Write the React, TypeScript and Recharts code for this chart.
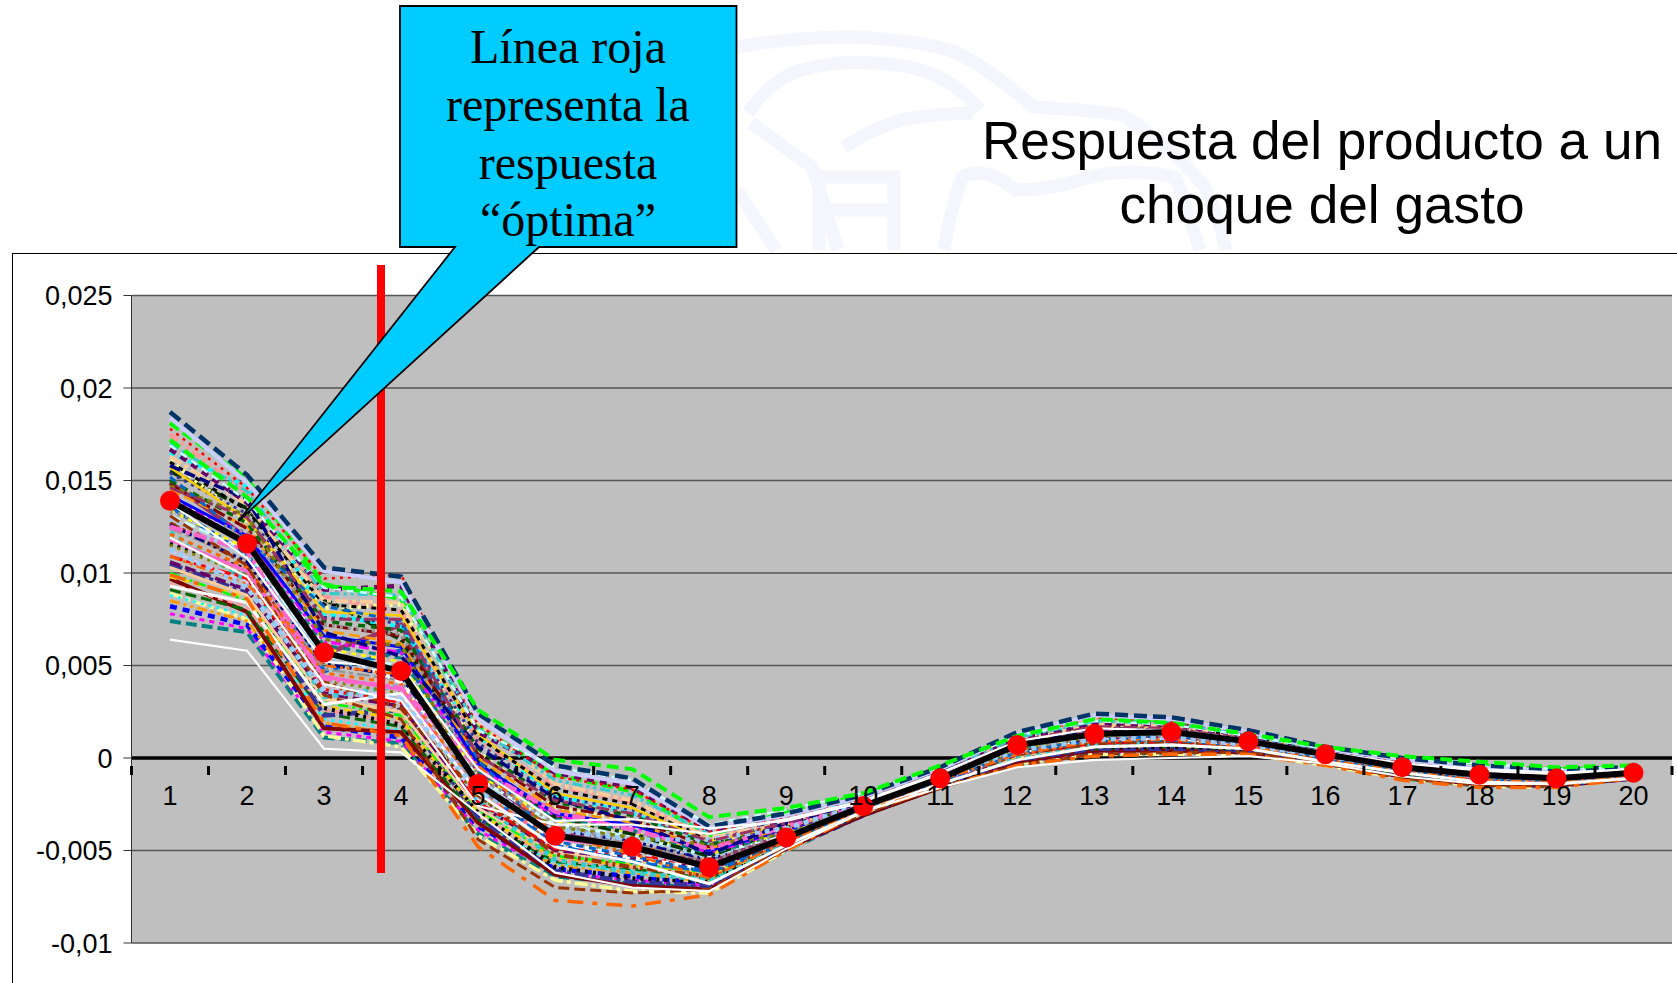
import { CartesianGrid, Line, LineChart, ReferenceLine, XAxis, YAxis } from 'recharts'

const periods = ['1', '2', '3', '4', '5', '6', '7', '8', '9', '10', '11', '12', '13', '14', '15', '16', '17', '18', '19', '20']
const yTicks = [-0.01, -0.005, 0, 0.005, 0.01, 0.015, 0.02, 0.025]

// black line with the red markers
const optimal = [0.0139, 0.0116, 0.0057, 0.0047, -0.0014, -0.0042, -0.0048, -0.0059, -0.0043, -0.0026, -0.0011, 0.0007, 0.0013, 0.0014, 0.0009, 0.0002, -0.0005, -0.0009, -0.0011, -0.0008]

// simulated responses, read top to bottom off the band
const t01 = [0.0187, 0.0153, 0.0103, 0.0098, 0.0024, -0.0004, -0.0011, -0.0037, -0.003, -0.002, -0.0005, 0.0014, 0.0024, 0.0022, 0.0015, 0.0006, 0, -0.0004, -0.0006, -0.0005]
const t02 = [0.0184, 0.0149, 0.0101, 0.0095, 0.0021, -0.0007, -0.0014, -0.0038, -0.0031, -0.0021, -0.0006, 0.0013, 0.0023, 0.0021, 0.0014, 0.0005, -0.0001, -0.0005, -0.0007, -0.0006]
const t03 = [0.0178, 0.0146, 0.0097, 0.0099, 0.0018, -0.001, -0.0017, -0.004, -0.0032, -0.0021, -0.0006, 0.0012, 0.0022, 0.002, 0.0014, 0.0005, -0.0002, -0.0005, -0.0007, -0.0006]
const t04 = [0.0172, 0.0141, 0.0093, 0.009, 0.0026, -0.0001, -0.0006, -0.0032, -0.0027, -0.0019, -0.0004, 0.0012, 0.0021, 0.0019, 0.0013, 0.0006, 0.0001, -0.0002, -0.0005, -0.0004]
const t05 = [0.017, 0.0144, 0.0089, 0.0088, 0.0016, -0.0012, -0.002, -0.0041, -0.0033, -0.0022, -0.0007, 0.0011, 0.002, 0.0019, 0.0012, 0.0004, -0.0002, -0.0006, -0.0008, -0.0006]
const t06 = [0.0167, 0.0138, 0.0091, 0.0093, 0.0014, -0.0008, -0.0016, -0.0039, -0.0034, -0.0023, -0.0007, 0.001, 0.0019, 0.0018, 0.0012, 0.0004, -0.0003, -0.0006, -0.0008, -0.0007]
const t07 = [0.0163, 0.0137, 0.0085, 0.0084, 0.0019, -0.0014, -0.0023, -0.0043, -0.0035, -0.0023, -0.0008, 0.0009, 0.0018, 0.0017, 0.0011, 0.0004, -0.0003, -0.0007, -0.0009, -0.0007]
const t08 = [0.016, 0.0134, 0.0083, 0.008, 0.0011, -0.0017, -0.0025, -0.0044, -0.0036, -0.0024, -0.0008, 0.0009, 0.0018, 0.0017, 0.0011, 0.0003, -0.0003, -0.0007, -0.0009, -0.0007]
const t09 = [0.0157, 0.0129, 0.0079, 0.0077, 0.0013, -0.0019, -0.0027, -0.0045, -0.0036, -0.0024, -0.0009, 0.0008, 0.0017, 0.0016, 0.0011, 0.0003, -0.0004, -0.0007, -0.0009, -0.0007]
const t10 = [0.0154, 0.0132, 0.0076, 0.0073, 0.0008, -0.0021, -0.0028, -0.0046, -0.0037, -0.0025, -0.0009, 0.0008, 0.0016, 0.0016, 0.001, 0.0003, -0.0004, -0.0008, -0.001, -0.0007]
const t11 = [0.015, 0.0127, 0.0074, 0.0069, 0.0005, -0.0024, -0.0031, -0.0047, -0.0037, -0.0025, -0.0009, 0.0007, 0.0016, 0.0015, 0.001, 0.0003, -0.0004, -0.0008, -0.001, -0.0007]
const t12 = [0.0148, 0.0124, 0.0072, 0.0066, 0.0002, -0.0026, -0.0033, -0.0048, -0.0038, -0.0025, -0.001, 0.0007, 0.0015, 0.0015, 0.001, 0.0002, -0.0004, -0.0008, -0.001, -0.0008]
const t13 = [0.0145, 0.0125, 0.0069, 0.0062, 0, -0.0028, -0.0035, -0.0049, -0.0038, -0.0026, -0.001, 0.0006, 0.0014, 0.0014, 0.0009, 0.0002, -0.0004, -0.0008, -0.001, -0.0008]
const t14 = [0.0142, 0.012, 0.0066, 0.006, -0.0003, -0.003, -0.0036, -0.005, -0.0039, -0.0026, -0.001, 0.0006, 0.0014, 0.0014, 0.0009, 0.0002, -0.0005, -0.0009, -0.001, -0.0008]
const t15 = [0.014, 0.0121, 0.0063, 0.0057, -0.0005, -0.0031, -0.0037, -0.0051, -0.0039, -0.0026, -0.001, 0.0006, 0.0013, 0.0014, 0.0009, 0.0002, -0.0005, -0.0009, -0.0011, -0.0008]
const t16 = [0.0137, 0.0117, 0.0061, 0.0054, -0.0007, -0.0033, -0.0039, -0.0052, -0.004, -0.0026, -0.0011, 0.0005, 0.0013, 0.0013, 0.0009, 0.0002, -0.0005, -0.0009, -0.0011, -0.0008]
const t17 = [0.0134, 0.0113, 0.0059, 0.0052, -0.0009, -0.0034, -0.004, -0.0052, -0.004, -0.0027, -0.0011, 0.0005, 0.0012, 0.0013, 0.0009, 0.0002, -0.0005, -0.0009, -0.0011, -0.0009]
const t18 = [0.0131, 0.0112, 0.0055, 0.005, -0.0011, -0.0036, -0.0042, -0.0053, -0.0041, -0.0027, -0.0011, 0.0005, 0.0012, 0.0013, 0.0008, 0.0001, -0.0005, -0.001, -0.0011, -0.0009]
const t19 = [0.0129, 0.0109, 0.0053, 0.0047, -0.0012, -0.0038, -0.0043, -0.0054, -0.0041, -0.0027, -0.0012, 0.0004, 0.0011, 0.0012, 0.0008, 0.0001, -0.0005, -0.001, -0.0011, -0.0009]
const t20 = [0.0126, 0.0106, 0.0051, 0.0044, -0.0014, -0.0039, -0.0045, -0.0055, -0.0042, -0.0028, -0.0012, 0.0004, 0.0011, 0.0012, 0.0008, 0.0001, -0.0006, -0.001, -0.0012, -0.0009]
const t21 = [0.0124, 0.0107, 0.0048, 0.0042, -0.0016, -0.0041, -0.0046, -0.0056, -0.0042, -0.0028, -0.0012, 0.0004, 0.0011, 0.0011, 0.0008, 0.0001, -0.0006, -0.001, -0.0012, -0.0009]
const t22 = [0.0121, 0.0103, 0.0046, 0.004, -0.0018, -0.0043, -0.0047, -0.0056, -0.0043, -0.0028, -0.0012, 0.0003, 0.001, 0.0011, 0.0007, 0.0001, -0.0006, -0.001, -0.0012, -0.0009]
const t23 = [0.0118, 0.0101, 0.0044, 0.0037, -0.0019, -0.0044, -0.0048, -0.0057, -0.0043, -0.0028, -0.0013, 0.0003, 0.001, 0.0011, 0.0007, 0.0001, -0.0006, -0.0011, -0.0012, -0.0009]
const t24 = [0.0115, 0.0099, 0.0042, 0.0035, -0.0021, -0.0046, -0.005, -0.0058, -0.0044, -0.0029, -0.0013, 0.0003, 0.0009, 0.001, 0.0007, 0, -0.0006, -0.0011, -0.0012, -0.001]
const t25 = [0.0112, 0.0095, 0.0039, 0.0033, -0.0022, -0.0047, -0.0051, -0.0059, -0.0044, -0.0029, -0.0013, 0.0002, 0.0009, 0.001, 0.0007, 0, -0.0007, -0.0011, -0.0013, -0.001]
const t26 = [0.0109, 0.0097, 0.0037, 0.003, -0.0024, -0.0049, -0.0052, -0.0059, -0.0045, -0.0029, -0.0013, 0.0002, 0.0008, 0.0009, 0.0006, 0, -0.0007, -0.0011, -0.0013, -0.001]
const t27 = [0.0106, 0.0091, 0.0035, 0.0028, -0.0025, -0.005, -0.0054, -0.006, -0.0045, -0.0029, -0.0014, 0.0002, 0.0008, 0.0009, 0.0006, 0, -0.0007, -0.0012, -0.0013, -0.001]
const t28 = [0.0103, 0.0088, 0.0032, 0.0025, -0.0027, -0.0051, -0.0055, -0.0061, -0.0046, -0.003, -0.0014, 0.0001, 0.0007, 0.0008, 0.0006, -0.0001, -0.0007, -0.0012, -0.0013, -0.001]
const t29 = [0.01, 0.0085, 0.003, 0.0023, -0.0028, -0.0053, -0.0057, -0.0062, -0.0046, -0.003, -0.0014, 0.0001, 0.0007, 0.0008, 0.0006, -0.0001, -0.0008, -0.0012, -0.0014, -0.001]
const t30 = [0.0098, 0.0087, 0.0028, 0.0021, -0.003, -0.0054, -0.0058, -0.0063, -0.0047, -0.003, -0.0014, 0, 0.0006, 0.0007, 0.0005, -0.0001, -0.0008, -0.0012, -0.0014, -0.0011]
const t31 = [0.0094, 0.0082, 0.0026, 0.0019, -0.0031, -0.0055, -0.0059, -0.0064, -0.0047, -0.003, -0.0015, 0, 0.0006, 0.0007, 0.0005, -0.0001, -0.0008, -0.0013, -0.0014, -0.0011]
const t32 = [0.0091, 0.008, 0.0024, 0.0017, -0.0033, -0.0056, -0.006, -0.0065, -0.0048, -0.003, -0.0015, 0, 0.0005, 0.0006, 0.0005, -0.0002, -0.0009, -0.0013, -0.0014, -0.0011]
const t33 = [0.0088, 0.0077, 0.0021, 0.0015, -0.0034, -0.0057, -0.0061, -0.0066, -0.0048, -0.003, -0.0015, -0.0001, 0.0005, 0.0006, 0.0005, -0.0002, -0.0009, -0.0013, -0.0015, -0.0011]
const t34 = [0.0085, 0.0074, 0.0019, 0.0013, -0.0036, -0.0058, -0.0062, -0.0067, -0.0048, -0.0031, -0.0015, -0.0001, 0.0004, 0.0005, 0.0004, -0.0002, -0.0009, -0.0014, -0.0015, -0.0011]
const t35 = [0.0082, 0.0072, 0.0017, 0.0011, -0.0037, -0.006, -0.0064, -0.0068, -0.0049, -0.0031, -0.0015, -0.0002, 0.0004, 0.0005, 0.0004, -0.0002, -0.001, -0.0014, -0.0015, -0.0011]
const t36 = [0.0078, 0.007, 0.0014, 0.0009, -0.0039, -0.0062, -0.0066, -0.0069, -0.0049, -0.0031, -0.0015, -0.0002, 0.0003, 0.0004, 0.0004, -0.0003, -0.001, -0.0014, -0.0015, -0.0011]
const t37 = [0.0074, 0.0068, 0.0011, 0.0008, -0.0041, -0.0064, -0.0068, -0.007, -0.005, -0.0031, -0.0016, -0.0003, 0.0002, 0.0003, 0.0003, -0.0003, -0.0011, -0.0015, -0.0015, -0.0011]
const t38 = [0.0099, 0.0086, 0.0019, 0.0012, -0.0048, -0.0077, -0.008, -0.0074, -0.005, -0.0029, -0.0016, -0.0004, 0.0001, 0.0002, 0.0002, -0.0004, -0.0012, -0.0016, -0.0016, -0.0011]
const t39 = [0.0131, 0.0104, 0.0034, 0.0021, -0.0044, -0.007, -0.0073, -0.0071, -0.0048, -0.003, -0.0016, -0.0004, 0.0002, 0.0003, 0.0003, -0.0003, -0.0011, -0.0015, -0.0015, -0.0011]
const t40 = [0.0119, 0.0098, 0.004, 0.0031, -0.0026, -0.0036, -0.0036, -0.0041, -0.0033, -0.0023, -0.0008, 0.0009, 0.0016, 0.0015, 0.001, 0.0003, -0.0003, -0.0006, -0.0008, -0.0006]
const t41 = [0.0064, 0.0058, 0.0005, 0.0003, -0.003, -0.0062, -0.007, -0.0072, -0.0049, -0.0029, -0.0016, -0.0005, -0.0001, 0, 0.0001, -0.0003, -0.001, -0.0014, -0.0014, -0.0011]
const t42 = [0.0147, 0.0131, 0.0064, 0.0061, -0.0017, -0.0037, -0.0043, -0.0047, -0.0041, -0.0026, -0.0011, 0.0004, 0.0012, 0.0013, 0.0009, 0.0002, -0.0004, -0.0009, -0.001, -0.0008]
const t43 = [0.0125, 0.0112, 0.0043, 0.0038, -0.0006, -0.0029, -0.0039, -0.0049, -0.0037, -0.0025, -0.001, 0.0007, 0.0014, 0.0014, 0.0009, 0.0003, -0.0005, -0.0009, -0.0011, -0.0008]
const t44 = [0.0152, 0.0118, 0.0082, 0.0074, -0.0001, -0.0045, -0.0053, -0.0062, -0.0046, -0.0028, -0.0013, 0.0003, 0.001, 0.0012, 0.0008, 0, -0.0007, -0.0011, -0.0012, -0.0009]
const t45 = [0.0109, 0.0094, 0.005, 0.0045, -0.0004, -0.0041, -0.0052, -0.0065, -0.0045, -0.0028, -0.0012, 0.0002, 0.0009, 0.001, 0.0006, -0.0001, -0.0007, -0.0012, -0.0013, -0.001]
const t46 = [0.0133, 0.0122, 0.0072, 0.0067, -0.001, -0.0035, -0.0047, -0.0057, -0.0039, -0.0027, -0.0011, 0.0005, 0.0012, 0.0012, 0.0008, 0.0001, -0.0006, -0.001, -0.0012, -0.0009]
const t47 = [0.0093, 0.0084, 0.0029, 0.0035, -0.0019, -0.0048, -0.0056, -0.0068, -0.0047, -0.0029, -0.0014, -0.0001, 0.0006, 0.0007, 0.0005, -0.0002, -0.0008, -0.0013, -0.0014, -0.0011]
const t48 = [0.0158, 0.014, 0.0068, 0.0055, 0.0006, -0.0022, -0.0034, -0.0052, -0.0035, -0.0024, -0.0008, 0.0008, 0.0016, 0.0015, 0.001, 0.0003, -0.0004, -0.0008, -0.001, -0.0007]
const t49 = [0.0181, 0.0151, 0.0094, 0.0086, 0.0017, -0.0009, -0.0018, -0.0042, -0.0029, -0.002, -0.0005, 0.0013, 0.0022, 0.002, 0.0013, 0.0005, -0.0001, -0.0004, -0.0006, -0.0005]
const t50 = [0.0175, 0.0143, 0.0087, 0.0079, 0.0009, -0.0015, -0.0024, -0.0043, -0.0032, -0.0022, -0.0006, 0.0011, 0.0021, 0.002, 0.0013, 0.0004, -0.0002, -0.0005, -0.0007, -0.0006]
const t51 = [0.0165, 0.0147, 0.0078, 0.0071, 0.0012, -0.002, -0.003, -0.0046, -0.0034, -0.0023, -0.0007, 0.001, 0.0019, 0.0017, 0.0012, 0.0004, -0.0003, -0.0006, -0.0009, -0.0007]
const t52 = [0.0161, 0.0128, 0.0081, 0.0083, 0.0003, -0.0027, -0.0034, -0.0048, -0.0036, -0.0024, -0.0008, 0.0009, 0.0017, 0.0016, 0.0011, 0.0003, -0.0004, -0.0007, -0.0009, -0.0008]
const t53 = [0.0155, 0.0135, 0.0086, 0.0064, -0.0002, -0.0032, -0.0041, -0.0053, -0.0038, -0.0026, -0.001, 0.0006, 0.0015, 0.0014, 0.001, 0.0002, -0.0004, -0.0008, -0.001, -0.0008]
const t54 = [0.0149, 0.0119, 0.0056, 0.0072, -0.0008, -0.004, -0.0049, -0.0057, -0.0041, -0.0027, -0.0011, 0.0005, 0.0012, 0.0012, 0.0008, 0.0001, -0.0005, -0.0009, -0.0011, -0.0009]
const t55 = [0.0143, 0.0115, 0.006, 0.0041, -0.0013, -0.0045, -0.0054, -0.006, -0.0042, -0.0028, -0.0012, 0.0003, 0.0011, 0.0011, 0.0007, 0.0001, -0.0006, -0.001, -0.0012, -0.0009]
const t56 = [0.0136, 0.011, 0.0047, 0.0058, -0.0015, -0.0047, -0.0056, -0.0061, -0.0043, -0.0027, -0.0012, 0.0003, 0.001, 0.001, 0.0007, 0, -0.0006, -0.0011, -0.0012, -0.0009]
const t57 = [0.0127, 0.0105, 0.0041, 0.0027, -0.002, -0.0052, -0.0059, -0.0064, -0.0044, -0.0029, -0.0013, 0.0002, 0.0008, 0.0009, 0.0006, 0, -0.0007, -0.0011, -0.0013, -0.001]
const t58 = [0.0122, 0.0096, 0.0033, 0.0039, -0.0023, -0.0055, -0.0062, -0.0066, -0.0046, -0.0029, -0.0014, 0.0001, 0.0007, 0.0008, 0.0005, -0.0001, -0.0007, -0.0012, -0.0014, -0.001]
const t59 = [0.0116, 0.0102, 0.0027, 0.0018, -0.0029, -0.0059, -0.0065, -0.0067, -0.0047, -0.003, -0.0015, 0, 0.0006, 0.0006, 0.0005, -0.0002, -0.0008, -0.0013, -0.0014, -0.0011]
const t60 = [0.0105, 0.0089, 0.0023, 0.0026, -0.0032, -0.0061, -0.0067, -0.0069, -0.0048, -0.003, -0.0015, -0.0001, 0.0005, 0.0005, 0.0004, -0.0002, -0.0009, -0.0013, -0.0015, -0.0011]
const t61 = [0.0097, 0.0079, 0.0016, 0.0014, -0.0035, -0.0063, -0.0069, -0.0071, -0.0049, -0.0031, -0.0016, -0.0002, 0.0004, 0.0004, 0.0003, -0.0003, -0.001, -0.0014, -0.0015, -0.0011]
const t62 = [0.0138, 0.0108, 0.0052, 0.0049, -0.0006, -0.0034, -0.0033, -0.0038, -0.0034, -0.0024, -0.0009, 0.0007, 0.0014, 0.0013, 0.0009, 0.0003, -0.0003, -0.0007, -0.0009, -0.0007]
const t63 = [0.0113, 0.0092, 0.0036, 0.0032, -0.0018, -0.0039, -0.0044, -0.0044, -0.0038, -0.0025, -0.001, 0.0004, 0.001, 0.0011, 0.0007, 0.0001, -0.0005, -0.0009, -0.0011, -0.0008]
const t64 = [0.0146, 0.013, 0.0075, 0.0075, 0.0001, -0.0023, -0.003, -0.0045, -0.0035, -0.0023, -0.0008, 0.0009, 0.0017, 0.0016, 0.001, 0.0003, -0.0004, -0.0008, -0.0009, -0.0007]
const t65 = [0.0169, 0.0139, 0.0092, 0.0087, 0.0015, -0.0005, -0.0012, -0.0036, -0.0028, -0.0019, -0.0005, 0.0012, 0.002, 0.0018, 0.0012, 0.0005, 0, -0.0003, -0.0006, -0.0005]
const t66 = [0.0089, 0.0075, 0.0012, 0.0006, -0.0042, -0.0066, -0.0072, -0.0073, -0.005, -0.003, -0.0016, -0.0003, 0.0002, 0.0002, 0.0002, -0.0004, -0.0011, -0.0015, -0.0016, -0.0011]

const trials = [
  t37, t36, t66, t35, t34, t33, t61, t32, t31, t60, t30, t29, t59, t28, t27, t58, t26, t25, t57, t24, t23, t56, t22, t21, t55,
  t20, t19, t54, t18, t17, t53, t16, t15, t52, t14, t13, t51, t12, t11, t50, t10, t09, t49, t08, t07, t06, t05, t03, t02,
  t39, t42, t43, t44, t45, t46, t47, t48, t63, t64, t65, t01, t04, t38, t40, t62, t41,
]

const palette = ['#008080', '#FF00FF', '#FFFF99', '#0000FF', '#FF9900', '#00FFFF', '#800000', '#006600', '#FF9999', '#333399', '#FFCC00', '#00FF00', '#000000', '#FFCC99', '#660066', '#33CCCC', '#FF0000', '#CCCCFF', '#993300', '#808000', '#FF66CC', '#0066CC', '#FF6600', '#969696', '#FFFFFF', '#000080', '#99CCFF', '#993366', '#CCFFFF', '#FFFF00', '#003300']
const dashes = ['11 5', '5 5', '13 4 4 4', '7 6', '10 4 3 4 3 4', '3 5', '']
const widths = [4, 3, 3.5, 4.5, 3, 2.5]

const chartData = periods.map((period, i) => {
  const row: Record<string, string | number> = { period, optimal: optimal[i] }
  trials.forEach((values, k) => {
    row[`t${k}`] = values[i]
  })
  return row
})

function trialStyle(k: number) {
  // envelope lines have fixed looks
  const values = trials[k]
  if (values === t01) return { stroke: '#003366', dash: '13 6', width: 4.5 }
  if (values === t04) return { stroke: '#00FF00', dash: '12 6', width: 4 }
  if (values === t38) return { stroke: '#FF6600', dash: '16 9 5 9', width: 3.5 }
  if (values === t40 || values === t62 || values === t41) return { stroke: '#FFFFFF', dash: '', width: 2.2 }
  return {
    stroke: palette[k % palette.length],
    dash: dashes[k % dashes.length],
    width: widths[k % widths.length],
  }
}

const BAND = 77
const ZERO_OFFSET = 185

// Excel style: ticks hang from the zero line, between categories, labels lower down
function ZeroTick({ x, y, payload, index }: any) {
  const top = y - ZERO_OFFSET
  return (
    <g>
      <line x1={x + BAND / 2} x2={x + BAND / 2} y1={top} y2={top + 9} stroke="#000" strokeWidth={3} />
      {index === 0 && <line x1={x - BAND / 2} x2={x - BAND / 2} y1={top} y2={top + 9} stroke="#000" strokeWidth={3} />}
      <text x={x} y={top + 47} dy={-8} textAnchor="middle" fontSize={27} fontFamily="Liberation Sans" fill="#000">
        {payload.value}
      </text>
    </g>
  )
}

function RedDot({ cx, cy }: any) {
  return <circle cx={cx} cy={cy} r={10} fill="#FF0000" />
}

const formatTick = (value: number) => String(value).replace('.', ',')

export default function App() {
  return (
    <div style={{ position: 'absolute', left: 0, top: 0, width: 1677, height: 983, overflow: 'hidden', background: '#fff' }}>
      {/* faint seal behind the slide */}
      <svg width={1677} height={260} style={{ position: 'absolute', left: 0, top: 0 }}>
        <g fill="none" stroke="#F5F6FD" strokeWidth={13}>
          <path d="M737 47 Q800 36 855 37 Q920 40 958 53 Q1005 80 1033 107 Q1090 110 1123 115 Q1175 150 1205 187 Q1220 220 1226 250" />
          <path d="M748 113 Q770 80 801 70 Q840 60 873 63 Q920 65 944 80 Q965 92 980 110" />
          <path d="M844 147 Q870 130 901 120 Q940 113 973 113" />
          <path d="M751 123 L812 167 L838 250" />
          <path d="M819 250 V177 H894 V250 M819 210 H894" />
          <path d="M944 250 Q950 210 962 177 Q985 165 1016 190 Q1050 190 1080 180 Q1130 165 1176 178 L1200 250" />
          <path d="M737 190 L776 250" />
        </g>
      </svg>

      <div style={{ position: 'absolute', left: 12, top: 253, width: 1700, height: 800, border: '1.5px solid #000', background: '#fff', boxSizing: 'border-box' }} />

      <div style={{ position: 'absolute', left: 0, top: 0 }}>
        <LineChart width={1677} height={983} data={chartData} margin={{ top: 295.5, right: 5, bottom: 10, left: 31.5 }}>
          <CartesianGrid vertical={false} stroke="#555" strokeWidth={1.5} fill="#BFBFBF" syncWithTicks />
          <XAxis
            dataKey="period"
            axisLine={false}
            tickLine={false}
            height={30}
            interval={0}
            padding={{ left: 38.5, right: 38.5 }}
            tick={<ZeroTick />}
          />
          <YAxis
            width={100}
            domain={[-0.01, 0.025]}
            ticks={yTicks}
            interval={0}
            tickFormatter={formatTick}
            tickSize={8}
            tickMargin={11}
            stroke="#333"
            tick={{ fontSize: 27, fontFamily: 'Liberation Sans', fill: '#000' }}
          />
          <ReferenceLine y={0} stroke="#000" strokeWidth={3.5} />
          {trials.map((_, k) => {
            const style = trialStyle(k)
            return (
              <Line
                key={k}
                dataKey={`t${k}`}
                type="linear"
                stroke={style.stroke}
                strokeWidth={style.width}
                strokeDasharray={style.dash}
                strokeLinecap="butt"
                dot={false}
                isAnimationActive={false}
              />
            )
          })}
          <Line
            dataKey="optimal"
            type="linear"
            stroke="#000"
            strokeWidth={6}
            dot={<RedDot />}
            isAnimationActive={false}
          />
        </LineChart>
      </div>

      <svg width={1677} height={983} style={{ position: 'absolute', left: 0, top: 0 }}>
        <rect x={377} y={265} width={8} height={608} fill="#FF0000" />
        <path
          d="M400 6 H736.5 V247 H539 L238.5 521 L455 247 H400 Z"
          fill="#00CCFF"
          stroke="#000"
          strokeWidth={1.8}
          strokeLinejoin="miter"
        />
        <g fontFamily="Liberation Serif" fontSize={48} textAnchor="middle" fill="#000">
          <text x={568} y={63}>Línea roja</text>
          <text x={568} y={121}>representa la</text>
          <text x={568} y={179}>respuesta</text>
          <text x={568} y={236}>“óptima”</text>
        </g>
        <g fontFamily="Liberation Sans" fontSize={53.2} textAnchor="middle" fill="#000">
          <text x={1322} y={159}>Respuesta del producto a un</text>
          <text x={1322} y={223}>choque del gasto</text>
        </g>
      </svg>
    </div>
  )
}
